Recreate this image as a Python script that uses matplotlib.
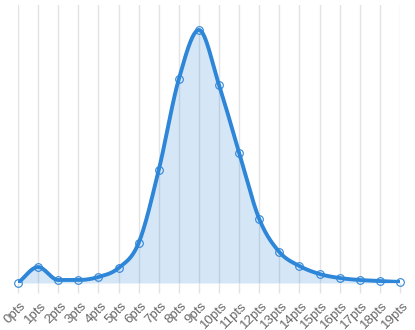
import numpy as np
import matplotlib
matplotlib.use("Agg")
import matplotlib.pyplot as plt
import matplotlib.transforms as mtransforms

labels = [f"{i}pts" for i in range(20)]
values = [0, 16, 3, 3, 6, 15, 40, 113, 204, 253, 198, 130, 64, 31, 17, 9, 5, 3, 2, 1]

def monotone(x, y, n=30):
    x = np.asarray(x, float); y = np.asarray(y, float)
    h = np.diff(x); d = np.diff(y) / h
    m = np.zeros_like(y)
    m[0] = d[0]; m[-1] = d[-1]
    for i in range(1, len(y) - 1):
        if d[i-1] * d[i] <= 0:
            m[i] = 0
        else:
            m[i] = (d[i-1] + d[i]) / 2
    for i in range(len(d)):
        if d[i] == 0:
            m[i] = m[i+1] = 0
        else:
            a = m[i] / d[i]; b = m[i+1] / d[i]
            s = a*a + b*b
            if s > 9:
                t = 3 / np.sqrt(s)
                m[i] = t*a*d[i]; m[i+1] = t*b*d[i]
    xs, ys = [], []
    for i in range(len(d)):
        t = np.linspace(0, 1, n, endpoint=False)
        h00 = 2*t**3 - 3*t**2 + 1; h10 = t**3 - 2*t**2 + t
        h01 = -2*t**3 + 3*t**2; h11 = t**3 - t**2
        xs.append(x[i] + t*h[i])
        ys.append(h00*y[i] + h10*h[i]*m[i] + h01*y[i+1] + h11*h[i]*m[i+1])
    xs.append([x[-1]]); ys.append([y[-1]])
    return np.concatenate(xs), np.concatenate(ys)

x = np.arange(len(values))
xs, ys = monotone(x, values)

fig = plt.figure(figsize=(4.15, 3.3), dpi=100)
ax = fig.add_axes([18/415, 47/330, 382/415, 278/330])
ax.set_xlim(0, 19)
ax.set_ylim(0, 278)

color = "#2e86d8"
ax.fill_between(xs, ys, 0, color=color, alpha=0.2, linewidth=0, zorder=2)
ax.plot(xs, ys, color=color, linewidth=2.8, zorder=3, solid_capstyle="round")
ax.plot(x, values, linestyle="none", marker="o", markersize=5.5, markerfacecolor="none",
        markeredgecolor=color, markeredgewidth=0.8, zorder=4, clip_on=False)

for s in ax.spines.values():
    s.set_visible(False)
ax.set_yticks([])
ax.set_xticks(x)
ax.set_xticklabels(labels, rotation=45, ha="right", rotation_mode="anchor",
                   fontsize=9.5, color="#666666", family="Liberation Sans")
ax.tick_params(axis="x", length=7, color="#e3e3e3", width=1, pad=5)
offset = mtransforms.ScaledTranslation(2/100, 0, fig.dpi_scale_trans)
for lab in ax.get_xticklabels():
    lab.set_transform(lab.get_transform() + offset)
ax.grid(axis="x", color="#e3e3e3", linewidth=1, zorder=1)
ax.set_axisbelow(True)

fig.savefig("out.png", dpi=100)
